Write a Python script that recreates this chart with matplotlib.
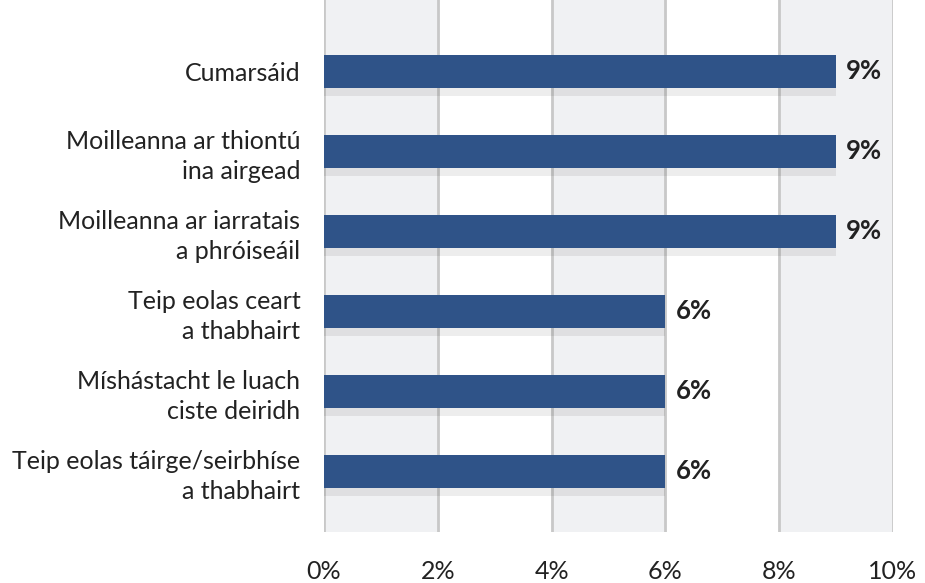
import matplotlib
matplotlib.use("Agg")
import matplotlib.pyplot as plt

categories = [
    "Cumarsáid",
    "Moilleanna ar thiontú\nina airgead",
    "Moilleanna ar iarratais\na phróiseáil",
    "Teip eolas ceart\na thabhairt",
    "Míshástacht le luach\nciste deiridh",
    "Teip eolas táirge/seirbhíse\na thabhairt",
]
values = [9, 9, 9, 6, 6, 6]
value_labels = ["9%", "9%", "9%", "6%", "6%", "6%"]
xticks = [0, 2, 4, 6, 8, 10]
xtick_labels = ["0%", "2%", "4%", "6%", "8%", "10%"]

plt.rcParams['font.family'] = ['Lato', 'DejaVu Sans']

W, H = 925, 583
fig = plt.figure(figsize=(W / 100, H / 100), dpi=100)
ax = fig.add_axes([324 / W, (H - 532) / H, (893 - 324) / W, 532 / H])

n = len(categories)
ypos = list(range(n))
ax.set_xlim(0, 10)
ax.set_ylim(n - 1 + 0.76, -0.89)

# alternating bands
for i in range(0, 10, 4):
    ax.axvspan(i, i + 2, color="#f0f1f3", zorder=0, lw=0)
for t in xticks:
    ax.axvline(t, color="#c8c8c8", lw=2, zorder=1)

bh = 0.41
sh = 0.10
ax.barh(ypos, values, height=bh, color="#2f5388", zorder=3)
ax.barh([y + bh / 2 + sh / 2 for y in ypos], values, height=sh,
        color="#000000", alpha=0.07, zorder=2, lw=0)

for y, v, lab in zip(ypos, values, value_labels):
    ax.text(v + 0.18, y, lab, va="center", ha="left", fontsize=18.5,
            fontweight="bold", color="#222222", zorder=4)

ax.set_yticks(ypos)
ax.set_yticklabels(categories, fontsize=18, color="#222222", linespacing=1.35)
ax.set_xticks(xticks)
ax.set_xticklabels(xtick_labels, fontsize=18, color="#222222")
ax.tick_params(axis="both", length=0)
ax.tick_params(axis="y", pad=17)
ax.tick_params(axis="x", pad=20)
for s in ax.spines.values():
    s.set_visible(False)

fig.savefig("out.png", dpi=100)
